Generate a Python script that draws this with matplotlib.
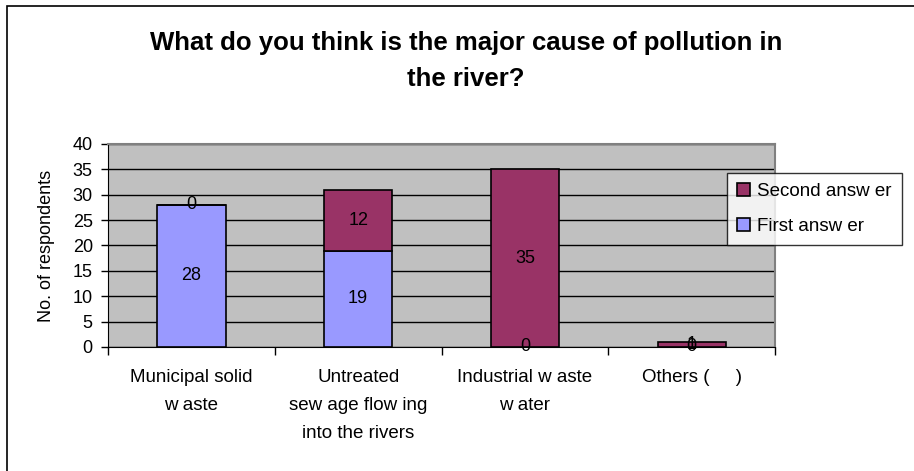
import matplotlib
matplotlib.use("Agg")
import matplotlib.pyplot as plt
from matplotlib.patches import Rectangle

plt.rcParams['font.family'] = ['Liberation Sans', 'DejaVu Sans']

# survey answers per cause
categories = ["Municipal solid\nw aste", "Untreated\nsew age flow ing\ninto the rivers",
              "Industrial w aste\nw ater", "Others (     )"]
first_answer = [28, 19, 0, 0]
second_answer = [0, 12, 35, 1]

first_color = "#9999FF"
second_color = "#993366"

fig = plt.figure(figsize=(9.14, 4.71), dpi=100)
ax = fig.add_axes([0.1182, 0.2633, 0.7298, 0.431])

x = list(range(len(categories)))
width = 0.41

b1 = ax.bar(x, first_answer, width, color=first_color, edgecolor="black", linewidth=1.2,
            label="First answ er", zorder=3)
b2 = ax.bar(x, second_answer, width, bottom=first_answer, color=second_color,
            edgecolor="black", linewidth=1.2, label="Second answ er", zorder=3)

# value labels in the middle of each segment
for i in x:
    ax.text(i, first_answer[i] / 2, str(first_answer[i]), ha="center", va="center",
            fontsize=13, zorder=4)
    ax.text(i, first_answer[i] + second_answer[i] / 2, str(second_answer[i]),
            ha="center", va="center", fontsize=13, zorder=4)

ax.set_facecolor("#C0C0C0")
ax.set_ylim(0, 40)
ax.set_xlim(-0.5, len(categories) - 0.5)
ax.set_yticks(range(0, 41, 5))
ax.yaxis.grid(True, color="black", linewidth=1)
ax.set_axisbelow(True)
ax.tick_params(axis="y", labelsize=13, length=5, direction="out", width=1, pad=6)

# category boundaries carry the x ticks
ax.set_xticks([i - 0.5 for i in range(len(categories) + 1)], minor=False)
ax.set_xticklabels([])
ax.tick_params(axis="x", length=6, direction="out", width=1)
ax.set_xticks(x, minor=True)
ax.set_xticklabels(categories, minor=True, fontsize=13.5, linespacing=1.85, va="top")
ax.tick_params(axis="x", which="minor", length=0, pad=16)

for side in ["top", "right"]:
    ax.spines[side].set_color("#808080")
    ax.spines[side].set_linewidth(1.5)
ax.spines["left"].set_color("black")
ax.spines["bottom"].set_color("black")

ax.set_ylabel("No. of respondents", fontsize=13, labelpad=13)

fig.text(0.51, 0.87, "What do you think is the major cause of pollution in\nthe river?",
         ha="center", va="center", fontsize=18.5, fontweight="bold", linespacing=1.62)

leg = fig.legend(handles=[b2, b1], labels=["Second answ er", "First answ er"],
                 loc="upper left", bbox_to_anchor=(727 / 914, 1 - 173 / 471),
                 frameon=True, fancybox=False, fontsize=13.5, handlelength=0.65,
                 handleheight=0.65, handletextpad=0.4, labelspacing=0.95,
                 borderpad=0.55, borderaxespad=0)
leg.get_frame().set_edgecolor("black")
leg.get_frame().set_linewidth(1)

# outer chart border
fig.patches.append(Rectangle((7 / 914, -0.1), 1.1, 1 - 6 / 471 + 0.1,
                             transform=fig.transFigure, fill=False,
                             edgecolor="black", linewidth=1.2))

fig.savefig("out.png", dpi=100)
